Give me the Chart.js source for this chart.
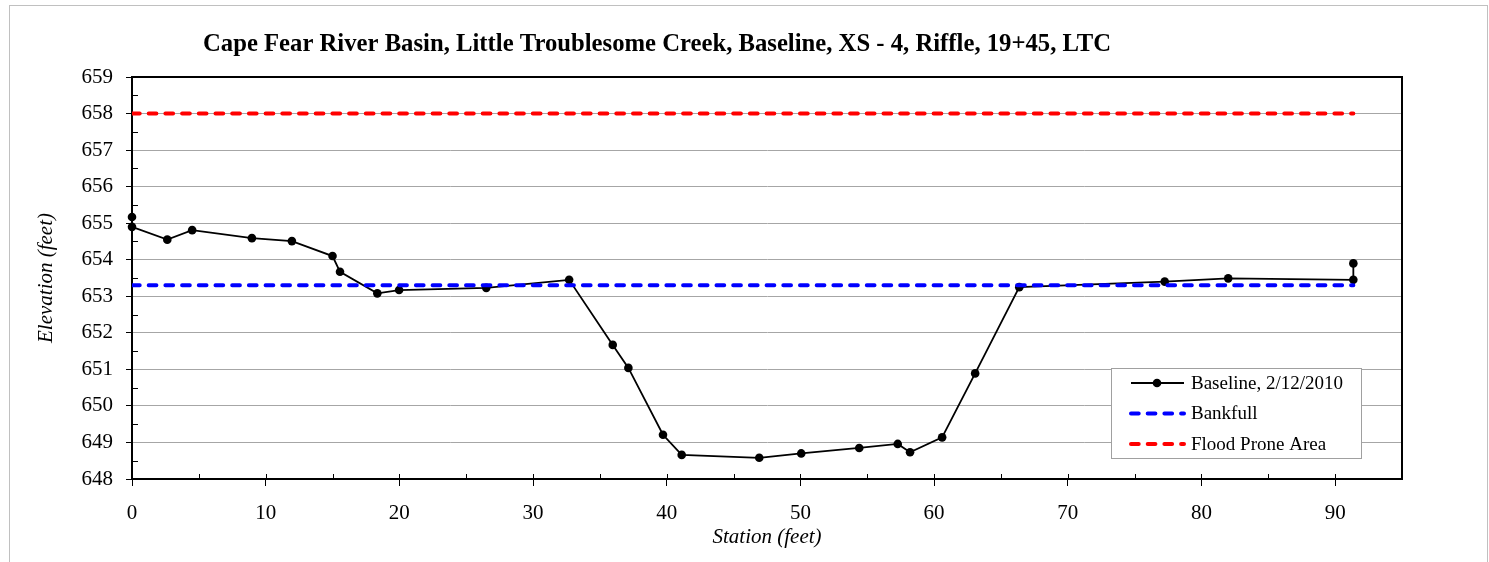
<!DOCTYPE html>
<html>
<head>
<meta charset="utf-8">
<script src="https://cdn.jsdelivr.net/npm/chart.js@4/dist/chart.umd.min.js"></script>
<style>
  body { margin: 0; background: #fff; }
  #wrap { width: 1489px; height: 562px; }
</style>
</head>
<body>
<div id="wrap"><canvas id="xsChart" width="1489" height="562"></canvas></div>
<script>
const chartTitle = "Cape Fear River Basin, Little Troublesome Creek, Baseline, XS - 4, Riffle, 19+45, LTC";

// surveyed cross-section (station ft, elevation ft)
const stations = [0, 0, 2.64, 4.5, 8.97, 11.96, 15.0, 15.56, 18.35, 19.98, 26.5, 32.7, 35.96, 37.13,
  39.72, 41.12, 46.92, 50.06, 54.4, 57.28, 58.2, 60.6, 63.07, 66.37, 77.25, 82.0, 91.36, 91.36];
const elevations = [655.17, 654.9, 654.55, 654.81, 654.59, 654.51, 654.1, 653.67, 653.08, 653.17, 653.23,
  653.45, 651.67, 651.04, 649.21, 648.66, 648.58, 648.7, 648.85, 648.96, 648.73, 649.14, 650.89,
  653.25, 653.4, 653.49, 653.45, 653.9];

const levelStations = [0, 91.36];
const bankfullElev = [653.3, 653.3];
const floodProneElev = [658, 658];

const seriesLabels = ["Baseline, 2/12/2010", "Bankfull", "Flood Prone Area"];
const xTicks = [0, 10, 20, 30, 40, 50, 60, 70, 80, 90];

const pts = (xs, ys) => xs.map((x, i) => ({ x: x, y: ys[i] }));
const serif = "'Liberation Serif', 'Times New Roman', serif";

// frame, title, plot box, minor ticks, legend
const decor = {
  id: "decor",
  beforeDraw(chart) {
    const ctx = chart.ctx;
    ctx.save();
    ctx.fillStyle = "#fff";
    ctx.fillRect(0, 0, chart.width, chart.height);
    ctx.strokeStyle = "#c0c0c0";
    ctx.lineWidth = 1;
    ctx.strokeRect(9.5, 5.5, 1478, 620);
    ctx.restore();
  },
  beforeDatasetsDraw(chart) {
    const ctx = chart.ctx;
    const a = chart.chartArea;
    ctx.save();
    ctx.strokeStyle = "#000";
    ctx.lineWidth = 2;
    ctx.strokeRect(a.left, a.top, a.right - a.left, a.bottom - a.top);
    ctx.restore();
  },
  afterDraw(chart) {
    const ctx = chart.ctx;
    const a = chart.chartArea;
    const xs = chart.scales.x, ys = chart.scales.y;
    ctx.save();

    ctx.fillStyle = "#000";
    ctx.font = "bold 24.7px " + serif;
    ctx.textAlign = "center";
    ctx.textBaseline = "middle";
    ctx.fillText(chartTitle, 657, 45);

    ctx.strokeStyle = "#000";
    ctx.lineWidth = 1;
    ctx.beginPath();
    for (let v = 648.5; v < 659; v += 1) {
      const py = Math.round(ys.getPixelForValue(v)) + 0.5;
      ctx.moveTo(a.left, py);
      ctx.lineTo(a.left + 6, py);
    }
    for (let v = 5; v < 95; v += 5) {
      const px = Math.round(xs.getPixelForValue(v)) + 0.5;
      ctx.moveTo(px, a.bottom);
      ctx.lineTo(px, a.bottom - 5);
    }
    ctx.stroke();

    // legend
    const lx = 1111, ly = 368, lw = 250, lh = 90;
    ctx.fillStyle = "#fff";
    ctx.fillRect(lx, ly, lw, lh);
    ctx.strokeStyle = "#a0a0a0";
    ctx.strokeRect(lx + 0.5, ly + 0.5, lw, lh);
    ctx.font = "19px " + serif;
    ctx.textAlign = "left";
    chart.data.datasets.forEach((ds, i) => {
      const cy = ly + 15 + i * 30.5;
      ctx.save();
      ctx.strokeStyle = ds.borderColor;
      ctx.lineWidth = ds.borderWidth;
      ctx.lineCap = ds.borderCapStyle || "butt";
      ctx.setLineDash(ds.borderDash || []);
      ctx.beginPath();
      ctx.moveTo(lx + 20, cy);
      ctx.lineTo(lx + 73, cy);
      ctx.stroke();
      if (ds.pointRadius) {
        ctx.fillStyle = ds.pointBackgroundColor;
        ctx.beginPath();
        ctx.arc(lx + 46, cy, ds.pointRadius, 0, Math.PI * 2);
        ctx.fill();
      }
      ctx.restore();
      ctx.fillStyle = "#000";
      ctx.fillText(ds.label, lx + 80, cy + 1);
    });
    ctx.restore();
  }
};

new Chart(document.getElementById("xsChart"), {
  type: "scatter",
  data: {
    datasets: [
      {
        label: seriesLabels[0],
        data: pts(stations, elevations),
        showLine: true,
        clip: false,
        borderColor: "#000",
        borderWidth: 1.8,
        pointRadius: 4.3,
        pointBackgroundColor: "#000",
        pointBorderWidth: 0,
        order: 3,
      },
      {
        label: seriesLabels[1],
        data: pts(levelStations, bankfullElev),
        showLine: true,
        borderColor: "#0000ff",
        borderWidth: 4,
        borderDash: [7.7, 9],
        borderCapStyle: "round",
        pointRadius: 0,
        order: 2,
      },
      {
        label: seriesLabels[2],
        data: pts(levelStations, floodProneElev),
        showLine: true,
        borderColor: "#ff0000",
        borderWidth: 4,
        borderDash: [7.7, 9],
        borderCapStyle: "round",
        pointRadius: 0,
        order: 1,
      },
    ],
  },
  options: {
    responsive: false,
    animation: false,
    layout: { padding: { top: 77, right: 87, left: 0, bottom: 0 } },
    plugins: {
      legend: { display: false },
      tooltip: { enabled: false },
      title: { display: false },
    },
    scales: {
      x: {
        type: "linear",
        min: 0,
        max: 95,
        afterBuildTicks: (s) => { s.ticks = xTicks.map((v) => ({ value: v })); },
        afterFit: (s) => { s.height = 83; },
        grid: { drawOnChartArea: false, tickLength: 7, tickColor: "#000" },
        border: { color: "#000", width: 2 },
        ticks: { color: "#000", font: { family: serif, size: 21 }, padding: 15 },
        title: {
          display: true,
          text: "Station (feet)",
          color: "#000",
          font: { family: serif, size: 21, style: "italic" },
          padding: { bottom: 12 },
        },
      },
      y: {
        type: "linear",
        min: 648,
        max: 659,
        afterFit: (s) => { s.width = 132; },
        grid: { color: "#a6a6a6", lineWidth: 1, tickLength: 6, tickColor: "#000" },
        border: { color: "#000", width: 2 },
        ticks: { stepSize: 1, color: "#000", font: { family: serif, size: 21 }, padding: 13 },
        title: {
          display: true,
          text: "Elevation (feet)",
          color: "#000",
          font: { family: serif, size: 21, style: "italic" },
          padding: { top: 34 },
        },
      },
    },
  },
  plugins: [decor],
});
</script>
</body>
</html>
